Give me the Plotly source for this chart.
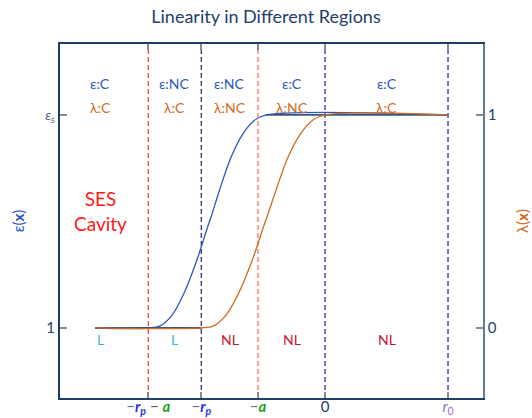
import plotly.graph_objects as go

# ---- data -------------------------------------------------------------
# boundary positions along x (in units of a)
boundary_names = ["-rp-a", "-rp", "-a", "0", "r0"]
boundary_x = [-2.637, -1.846, -1.0, 0.0, 1.836]

# permittivity profile epsilon(x), eps_s = 80
eps_s = 80
eps_x = [-3.433, -2.637, -2.461, -2.285, -2.109, -1.933, -1.845, -1.757,
         -1.691, -1.581, -1.404, -1.228, -1.052, -0.876, 1.836]
eps_y = [1, 1, 1.8, 5.7, 13.6, 24.7, 31.2, 38.1,
         42.9, 51.6, 64.2, 72.9, 78.0, 80, 80]

# ion accessibility profile lambda(x)
lam_x = [-3.433, -1.846, -1.661, -1.477, -1.293, -1.108, -1.015, -0.923,
         -0.855, -0.738, -0.554, -0.369, -0.185, 0.0, 1.836]
lam_y = [0, 0, 0.01, 0.06, 0.16, 0.30, 0.382, 0.47,
         0.531, 0.64, 0.80, 0.91, 0.975, 1.0, 1.0]

# region annotations (left to right)
eps_labels = ["C", "NC", "NC", "C", "C"]
lam_labels = ["C", "C", "NC", "NC", "C"]
lin_labels = ["L", "L", "NL", "NL", "NL"]

x_range = [-3.955, 2.358]

# ---- styling -----------------------------------------------------------
FONT = "Lato"
NAVY = "#1e3e6a"
EPS_C = "#2a56c0"
LAM_C = "#d2691e"
BASE_C = "#36577f"

fig = go.Figure()

fig.add_trace(go.Scatter(x=eps_x, y=eps_y, mode="lines", yaxis="y",
                         line=dict(color=EPS_C, width=1.3, shape="spline",
                                   smoothing=1.0),
                         hoverinfo="skip", showlegend=False))
fig.add_trace(go.Scatter(x=lam_x, y=lam_y, mode="lines", yaxis="y2",
                         line=dict(color=LAM_C, width=1.3, shape="spline",
                                   smoothing=1.0),
                         hoverinfo="skip", showlegend=False))
# plateau segments where the two profiles coincide
fig.add_trace(go.Scatter(x=[eps_x[0], boundary_x[1]], y=[eps_y[0], eps_y[0]],
                         mode="lines", yaxis="y",
                         line=dict(color=BASE_C, width=1.8),
                         hoverinfo="skip", showlegend=False))
fig.add_trace(go.Scatter(x=[eps_x[-2], boundary_x[4]], y=[eps_s, eps_s],
                         mode="lines", yaxis="y",
                         line=dict(color=BASE_C, width=1.8),
                         hoverinfo="skip", showlegend=False))

# dashed boundary lines
line_styles = [("#ff3030", 1.2), ("#1a1a99", 1.2), ("#ff7a7a", 1.4),
               ("#7a7ab8", 2.0), ("#1a1a99", 1.2)]
for bx, (col, w) in zip(boundary_x, line_styles):
    fig.add_shape(type="line", xref="x", yref="paper", x0=bx, x1=bx,
                  y0=0, y1=1, line=dict(color=col, width=w, dash="5px,3px"),
                  layer="below")

# region label annotations
edges = [x_range[0]] + boundary_x
centers = [(edges[i] + edges[i + 1]) / 2 for i in range(5)]
centers[0] -= 0.06
for cx, e, l, n in zip(centers, eps_labels, lam_labels, lin_labels):
    fig.add_annotation(x=cx, y=0.919, xref="x", yref="paper", showarrow=False,
                       text=f"ε:{e}", font=dict(family=FONT, size=14, color=EPS_C))
    fig.add_annotation(x=cx, y=0.851, xref="x", yref="paper", showarrow=False,
                       text=f"λ:{l}", font=dict(family=FONT, size=14, color=LAM_C))
    fig.add_annotation(x=cx, y=0.136, xref="x", yref="paper", showarrow=False,
                       text=n, font=dict(family=FONT, size=14,
                                         color="#3ab4d4" if n == "L" else "#c8102e"))

fig.add_annotation(x=centers[0], y=0.528, xref="x", yref="paper", showarrow=False,
                   text="SES<br>Cavity", font=dict(family=FONT, size=19, color="#ff1a1a"))

# x tick labels with coloured symbols
M = "<span style='color:#5d7591'>−</span>"
RP = "<span style='color:#2233ee'><b><i>r<sub>p</sub></i></b></span>"
A = "<span style='color:#1f9e1f'><b><i>a</i></b></span>"
tick_text = [
    f"{M}{RP}<span style='color:#555555'> − </span>{A}",
    f"{M}{RP}",
    f"{M}{A}",
    "<span style='color:#1d3b66'>0</span>",
    "<span style='color:#9b6fd0'><i>r</i><sub>0</sub></span>",
]

fig.update_layout(
    width=532, height=418,
    margin=dict(l=60, r=49, t=44, b=20, autoexpand=False),
    paper_bgcolor="white", plot_bgcolor="white",
    font=dict(family=FONT, color=NAVY),
    title=dict(text="Linearity in Different Regions", x=0.5, xanchor="center",
               y=1 - 17 / 418, yanchor="middle",
               font=dict(family=FONT, size=18, color=NAVY)),
    xaxis=dict(range=x_range, tickvals=boundary_x, ticktext=tick_text,
               automargin=False, ticklabelstandoff=-6,
               showgrid=False, zeroline=False, showline=True, linecolor=NAVY,
               linewidth=1.5, mirror="ticks", ticks="inside", ticklen=6,
               tickcolor="#8a8a8a", tickwidth=1.5,
               tickfont=dict(family=FONT, size=15)),
    yaxis=dict(range=[-24.96, 106.3], tickvals=[1, eps_s], automargin=False,
               ticktext=["1", "<span style='font-size:14px;color:#4a6a90'><i>ε<sub>s</sub></i></span>"],
               showgrid=False, zeroline=False, showline=True, linecolor=NAVY,
               linewidth=2, ticks="inside", ticklen=7, tickcolor="#8a8a8a",
               tickwidth=1.5, tickfont=dict(family=FONT, size=15, color=NAVY),
               title=dict(text="ε(<b>x</b>)", standoff=17,
                          font=dict(family=FONT, size=15, color=EPS_C))),
    yaxis2=dict(range=[-0.329, 1.333], tickvals=[0, 1], ticktext=["0", "1"],
                automargin=False,
                overlaying="y", side="right", showgrid=False, zeroline=False,
                showline=True, linecolor="#5f7b99", linewidth=1.5,
                ticks="inside", ticklen=7, tickcolor="#8a8a8a", tickwidth=1.5,
                tickfont=dict(family=FONT, size=15, color=NAVY),
                title=dict(text="λ(<b>x</b>)", standoff=22,
                           font=dict(family=FONT, size=15, color=LAM_C))),
)

fig.write_html("out.html")
